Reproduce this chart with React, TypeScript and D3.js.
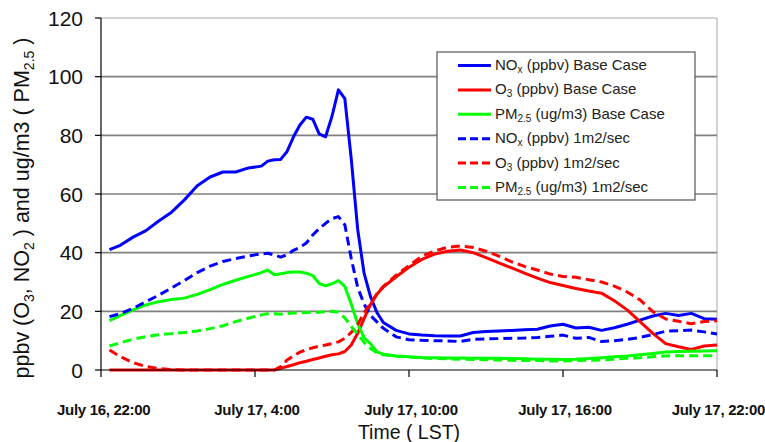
import React from "react";
import * as d3 from "d3";

// hours after July 16, 22:00 LST
const hours = [0.33, 0.75, 1.25, 1.75, 2.25, 2.75, 3.25, 3.75, 4.25, 4.75, 5.25, 5.75, 6.25,
  6.5, 6.75, 7, 7.25, 7.5, 7.75, 8, 8.25, 8.5, 8.75, 9, 9.25, 9.5, 9.75, 10, 10.25, 10.5, 10.75, 11,
  11.5, 12, 12.5, 13, 13.5, 14, 14.5, 15, 15.5, 16, 16.5, 17, 17.5, 18, 18.5, 19, 19.5, 20, 20.5, 21, 21.5, 22, 22.5, 23, 23.5, 24];

const noxBase = [41, 42.5, 45.3, 47.5, 50.8, 53.8, 58, 62.8, 65.8, 67.5, 67.5, 68.9, 69.5,
  71.2, 71.7, 71.8, 74.5, 79.5, 83.5, 86.2, 85.5, 80.5, 79.5, 86.5, 95.5, 92.5, 72, 48, 33, 25, 19.6, 16.2,
  13.5, 12.3, 11.9, 11.7, 11.6, 11.6, 12.8, 13.1, 13.3, 13.5, 13.7, 13.9, 15, 15.6, 14.3, 14.6, 13.5, 14.4, 15.6, 17, 18.4, 19.3, 18.6, 19.3, 17.5, 17.3];

const o3Base = [0, 0, 0, 0, 0, 0, 0, 0, 0, 0, 0, 0, 0,
  0, 0, 0.6, 1.2, 1.8, 2.5, 3, 3.6, 4.1, 4.7, 5.2, 5.5, 6.3, 8.5, 12.5, 17.5, 22.3, 25.8, 28.3,
  31.8, 35, 37.7, 39.5, 40.5, 40.9, 40, 38.3, 36.5, 34.8, 33, 31.3, 29.8, 28.8, 27.8, 26.9, 26.2, 23.6, 20.5, 16.5, 12.5, 9, 7.9, 7, 8.2, 8.5];

const pmBase = [16.8, 18.5, 20.5, 22.2, 23.3, 24, 24.5, 25.8, 27.4, 29.2, 30.6, 31.9, 33.2,
  34.1, 32.5, 32.8, 33.2, 33.4, 33.4, 33, 32.2, 29.5, 28.7, 29.4, 30.5, 28.5, 22.5, 15.8, 11, 9, 6.2, 5.4,
  4.8, 4.5, 4.3, 4.2, 4.1, 4.1, 4, 4, 4, 3.9, 3.8, 3.7, 3.7, 3.6, 3.7, 3.9, 4.2, 4.5, 4.8, 5.2, 5.6, 6.1, 6.3, 6.4, 6.5, 6.6];

const noxDiff = [18.2, 19.2, 21, 23.3, 25.5, 28, 30.5, 33.2, 35.4, 37, 38, 38.9, 39.6,
  39.8, 39.2, 38.5, 39.3, 40.8, 41.8, 43.3, 46, 48.2, 50, 51.6, 52.3, 49.5, 38, 28.2, 22.5, 18.6, 16.4, 14.2,
  11.3, 10.3, 10.1, 10, 9.9, 9.7, 10.5, 10.6, 10.7, 10.8, 10.9, 11.1, 11.5, 11.9, 10.8, 11.1, 9.7, 10, 10.4, 11.1, 12.1, 13.2, 13.4, 13.6, 13, 12.3];

const o3Diff = [6.8, 4.6, 2.5, 1.2, 0.5, 0.1, 0, 0, 0, 0, 0, 0, 0,
  0, 0, 1.2, 3.4, 4.8, 6.1, 6.9, 7.6, 8.1, 8.5, 9, 9.6, 10.8, 12.8, 15.5, 19.5, 22.7, 26, 28.5,
  32.3, 35.6, 38.8, 40.6, 41.8, 42.3, 41.8, 40.5, 38.8, 36.9, 35.3, 34.1, 32.7, 31.9, 31.6, 30.8, 30, 28.6, 26.6, 23.9, 19.9, 17.4, 16.6, 15.8, 16.5, 16.8];

const pmDiff = [8.2, 9.3, 10.5, 11.4, 12, 12.4, 12.8, 13.3, 14.1, 15.1, 16.5, 17.7, 18.8,
  19.2, 19.2, 19, 19.2, 19.4, 19.5, 19.6, 19.6, 19.7, 19.9, 20, 19.7, 17.8, 14.8, 12.3, 9.4, 7.3, 5.9, 5.2,
  4.7, 4.4, 4.1, 3.9, 3.8, 3.7, 3.6, 3.5, 3.4, 3.3, 3.2, 3.2, 3.1, 3.1, 3.2, 3.3, 3.4, 3.7, 4, 4.2, 4.5, 4.8, 4.9, 4.9, 4.9, 4.9];

const xTickHours = [0, 6, 12, 18, 24];
const xTickLabels = ["July 16, 22:00", "July 17, 4:00", "July 17, 10:00", "July 17, 16:00", "July 17, 22:00"];
const yTicks = [0, 20, 40, 60, 80, 100, 120];

type Series = { name: string; sub: string; rest: string; values: number[]; color: string; dashed: boolean };
const series: Series[] = [
  { name: "NO", sub: "x", rest: " (ppbv) Base Case", values: noxBase, color: "#0000FF", dashed: false },
  { name: "O", sub: "3", rest: " (ppbv) Base Case", values: o3Base, color: "#FF0000", dashed: false },
  { name: "PM", sub: "2.5", rest: "  (ug/m3) Base Case", values: pmBase, color: "#00FF00", dashed: false },
  { name: "NO", sub: "x", rest: " (ppbv) 1m2/sec", values: noxDiff, color: "#0000FF", dashed: true },
  { name: "O", sub: "3", rest: " (ppbv) 1m2/sec", values: o3Diff, color: "#FF0000", dashed: true },
  { name: "PM", sub: "2.5", rest: "  (ug/m3) 1m2/sec", values: pmDiff, color: "#00FF00", dashed: true },
];

const FONT = "Arial, 'Liberation Sans', Helvetica, sans-serif";

export default function App() {
  const left = 101, right = 717, top = 18, bottom = 370;
  const x = d3.scaleLinear().domain([0, 24]).range([left, right]);
  const y = d3.scaleLinear().domain([0, 120]).range([bottom, top]);
  const line = d3.line<number>().x((_, i) => x(hours[i])).y((v) => y(v)).curve(d3.curveLinear);

  const legX = 437, legY = 52, legW = 258, legH = 148;
  const rowH = 24.4;

  return (
    <svg width={765} height={442} style={{ position: "absolute", left: 0, top: 0, background: "#fff" }} fontFamily={FONT}>
      <rect x={0} y={0} width={765} height={442} fill="#fff" />
      {/* plot area border */}
      <line x1={left} x2={right} y1={y(120)} y2={y(120)} stroke="#a8a8a8" strokeWidth={1} />
      <line x1={right} x2={right} y1={y(120)} y2={bottom} stroke="#a8a8a8" strokeWidth={1} />
      {/* gridlines */}
      {yTicks.filter((t) => t > 0 && t < 120).map((t) => (
        <line key={t} x1={left} x2={right} y1={y(t)} y2={y(t)} stroke="#808080" strokeWidth={1.6} />
      ))}
      {/* series */}
      {series.map((s, i) => (
        <path key={i} d={line(s.values) || ""} fill="none" stroke={s.color} strokeWidth={3}
          strokeDasharray={s.dashed ? "9,5" : undefined} strokeLinejoin="round" />
      ))}
      {/* axes */}
      <line x1={left} x2={left} y1={y(120)} y2={bottom} stroke="#000" strokeWidth={1.2} />
      <line x1={left} x2={right} y1={bottom} y2={bottom} stroke="#000" strokeWidth={1.2} />
      {yTicks.map((t) => (
        <g key={t}>
          <line x1={left - 6} x2={left} y1={y(t)} y2={y(t)} stroke="#000" strokeWidth={1.2} />
          <text x={83} y={y(t) + 7.5} textAnchor="end" fontSize={21} fill="#111">{t}</text>
        </g>
      ))}
      {xTickHours.map((h, i) => {
        const last = i === xTickHours.length - 1;
        const first = i === 0;
        const tx = first ? 57 : last ? 765 : x(h) + 2;
        return (
          <g key={h}>
            <line x1={x(h)} x2={x(h)} y1={bottom} y2={bottom + 7} stroke="#000" strokeWidth={1.2} />
            <text x={tx} y={415} textAnchor={first ? "start" : last ? "end" : "middle"} fontSize={15}
              fontWeight="bold" fill="#111" letterSpacing={-0.3}>{xTickLabels[i]}</text>
          </g>
        );
      })}
      {/* axis titles */}
      <text x={409} y={439} textAnchor="middle" fontSize={19.5} fill="#111">Time ( LST)</text>
      <text transform="translate(29,208) rotate(-90)" textAnchor="middle" fontSize={21.5} fill="#111">
        ppbv (O<tspan fontSize={14} dy={5}>3</tspan><tspan dy={-5}>, NO</tspan><tspan fontSize={14} dy={5}>2</tspan>
        <tspan dy={-5}> ) and ug/m3 ( PM</tspan><tspan fontSize={14} dy={5}>2.5</tspan><tspan dy={-5}> )</tspan>
      </text>
      {/* legend */}
      <rect x={legX} y={legY} width={legW} height={legH} fill="#fff" stroke="#555" strokeWidth={1.2} />
      {series.map((s, i) => {
        const cy = 65.5 + i * rowH;
        return (
          <g key={i}>
            <line x1={458} x2={491} y1={cy} y2={cy} stroke={s.color} strokeWidth={3}
              strokeDasharray={s.dashed ? "8,4" : undefined} />
            <text x={495} y={cy + 4.5} fontSize={15} fill="#222">
              {s.name}<tspan fontSize={10} dy={3}>{s.sub}</tspan><tspan dy={-3}>{s.rest}</tspan>
            </text>
          </g>
        );
      })}
    </svg>
  );
}
